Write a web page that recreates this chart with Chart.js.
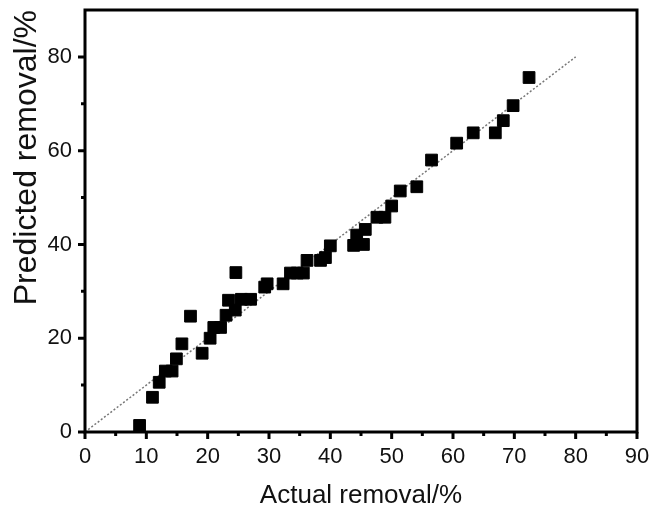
<!DOCTYPE html>
<html>
<head>
<meta charset="utf-8">
<script src="https://cdn.jsdelivr.net/npm/chart.js@4"></script>
<style>
  html, body { margin: 0; padding: 0; background: #fff; }
  #wrap { width: 652px; height: 513px; }
</style>
</head>
<body>
<div id="wrap"><canvas id="fitChart"></canvas></div>
<script>
// actual vs predicted removal (%)
const actual = [8.9, 11.0, 12.1, 13.1, 14.2, 14.9, 15.8, 17.2, 19.1, 20.4,
    21.0, 22.1, 23.0, 24.5, 23.4, 24.6, 25.5, 27.0, 29.3, 29.7,
    32.3, 33.5, 34.6, 35.6, 36.2, 38.4, 39.2, 40.0, 43.8, 45.4,
    44.3, 45.7, 47.6, 48.9, 50.0, 51.4, 54.1, 56.5, 60.6, 63.3,
    66.9, 68.2, 69.8, 72.4];
const predicted = [1.4, 7.4, 10.6, 13.0, 13.0, 15.6, 18.8, 24.7, 16.8, 20.0,
    22.3, 22.3, 24.9, 26.0, 28.1, 34.0, 28.3, 28.3, 30.9, 31.6,
    31.6, 33.9, 33.9, 33.9, 36.6, 36.6, 37.2, 39.7, 39.8, 40.0,
    42.0, 43.2, 45.8, 45.8, 48.2, 51.4, 52.3, 58.0, 61.6, 63.8,
    63.8, 66.4, 69.6, 75.6];
// y = x reference line
const lineX = [0, 80];
const lineY = [0, 80];

const xMajor = 10, xMinor = 5;
const yMajor = 20, yMinor = 10;

const fontFamily = "Arial, 'Liberation Sans', sans-serif";

// frame round the plot area plus outward tick marks
const framePlugin = {
    id: "frame",
    afterDraw(chart) {
        const { ctx, chartArea: a } = chart;
        const xs = chart.scales.x, ys = chart.scales.y;
        ctx.save();
        ctx.strokeStyle = "#000";
        ctx.lineWidth = 3;
        ctx.strokeRect(a.left, a.top, a.right - a.left, a.bottom - a.top);
        ctx.beginPath();
        for (let v = xs.min; v <= xs.max; v += xMinor) {
            const px = xs.getPixelForValue(v);
            const len = v % xMajor === 0 ? 7 : 4;
            ctx.moveTo(px, a.bottom);
            ctx.lineTo(px, a.bottom + len);
        }
        for (let v = ys.min; v < ys.max; v += yMinor) {
            const py = ys.getPixelForValue(v);
            const len = v % yMajor === 0 ? 7 : 4;
            ctx.moveTo(a.left, py);
            ctx.lineTo(a.left - len, py);
        }
        ctx.stroke();
        ctx.restore();
    }
};

const ctx = document.getElementById("fitChart").getContext("2d");
new Chart(ctx, {
    type: "scatter",
    data: {
        datasets: [{
            label: "Data",
            data: actual.map((x, i) => ({ x: x, y: predicted[i] })),
            pointStyle: "rect",
            pointRadius: 8.3,
            pointHoverRadius: 8.3,
            backgroundColor: "#000",
            borderColor: "#000",
            borderWidth: 1
        }, {
            label: "y = x",
            data: lineX.map((x, i) => ({ x: x, y: lineY[i] })),
            showLine: true,
            borderColor: "#777",
            borderWidth: 1.5,
            borderDash: [2, 2],
            pointRadius: 0,
            fill: false
        }]
    },
    options: {
        animation: false,
        responsive: true,
        maintainAspectRatio: false,
        layout: { padding: { top: 10, right: 15, left: 0, bottom: 0 } },
        plugins: { legend: { display: false }, tooltip: { enabled: false } },
        scales: {
            x: {
                type: "linear",
                min: 0, max: 90,
                afterFit(scale) {
                    scale.height = 81;
                    scale.paddingLeft = 0;
                    scale.paddingRight = 0;
                },
                grid: { display: false, drawTicks: false },
                border: { display: false },
                ticks: {
                    stepSize: xMajor,
                    padding: 12,
                    color: "#111",
                    font: { family: fontFamily, size: 22 }
                },
                title: {
                    display: true,
                    text: "Actual removal/%",
                    color: "#111",
                    font: { family: fontFamily, size: 26, lineHeight: 1 },
                    padding: { top: 0, bottom: 4 }
                }
            },
            y: {
                type: "linear",
                min: 0, max: 90,
                afterFit(scale) {
                    scale.width = 85;
                    scale.paddingTop = 0;
                    scale.paddingBottom = 0;
                },
                grid: { display: false, drawTicks: false },
                border: { display: false },
                ticks: {
                    stepSize: yMajor,
                    padding: 13,
                    color: "#111",
                    font: { family: fontFamily, size: 22 },
                    callback: v => v % yMajor === 0 && v < 90 ? v : ""
                },
                title: {
                    display: true,
                    text: "Predicted removal/%",
                    align: "end",
                    color: "#111",
                    font: { family: fontFamily, size: 32, lineHeight: 1 },
                    padding: { top: 11, bottom: 0 }
                }
            }
        }
    },
    plugins: [framePlugin]
});
</script>
</body>
</html>
